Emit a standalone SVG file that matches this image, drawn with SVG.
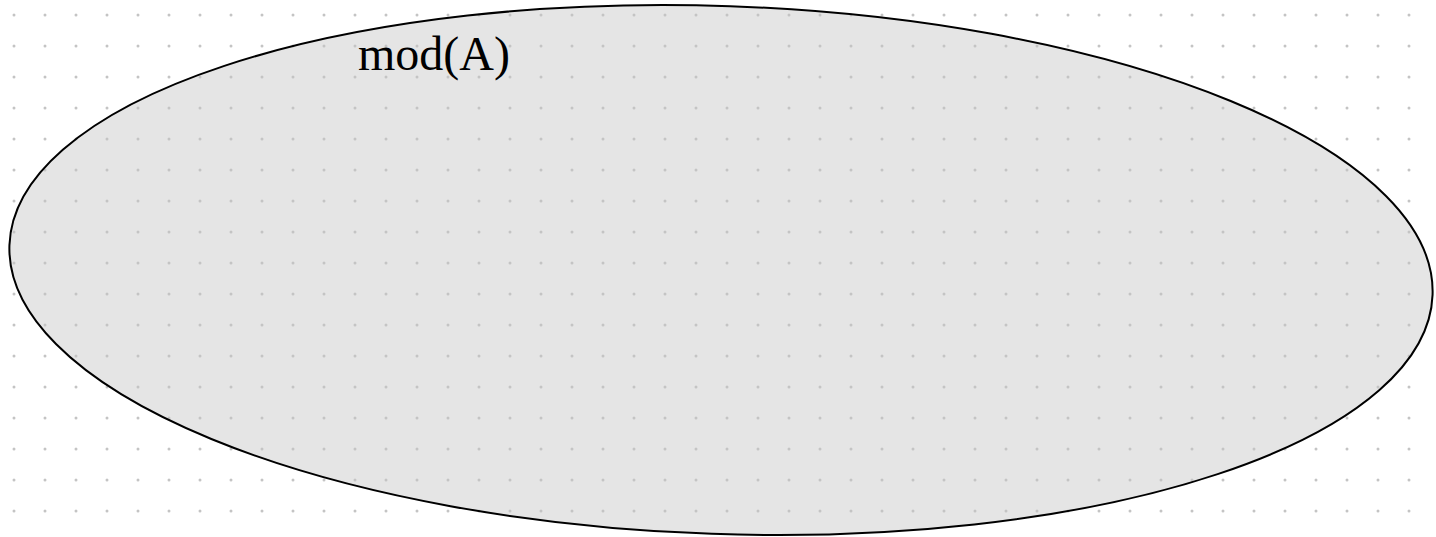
<svg xmlns="http://www.w3.org/2000/svg" width="1436" height="537" viewBox="0 0 1436 537">
  <style>
    .node-fill { fill: #e5e5e5; stroke: none; }
    .node-outline { fill: none; stroke: #000000; stroke-width: 2; }
    .label { font-family: "Liberation Serif", "Times New Roman", serif; font-size: 48px; fill: #000000; }
    .dot { fill: #c4c4c4; }
  </style>
  <defs>
    <pattern id="grid" x="0" y="0" width="31" height="31" patternUnits="userSpaceOnUse">
      <circle class="dot" cx="14" cy="15" r="1.5"/>
    </pattern>
  </defs>
  <rect width="1436" height="537" fill="#ffffff"/>
  <g id="node-modA">
    <ellipse class="node-fill" cx="721" cy="270" rx="712" ry="264" transform="rotate(2 721 270)"/>
    <rect width="1436" height="537" fill="url(#grid)"/>
    <ellipse class="node-outline" cx="721" cy="270" rx="712" ry="264" transform="rotate(2 721 270)"/>
    <text class="label" x="358" y="70">mod(A)</text>
  </g>
  <g id="connectors"></g>
</svg>
